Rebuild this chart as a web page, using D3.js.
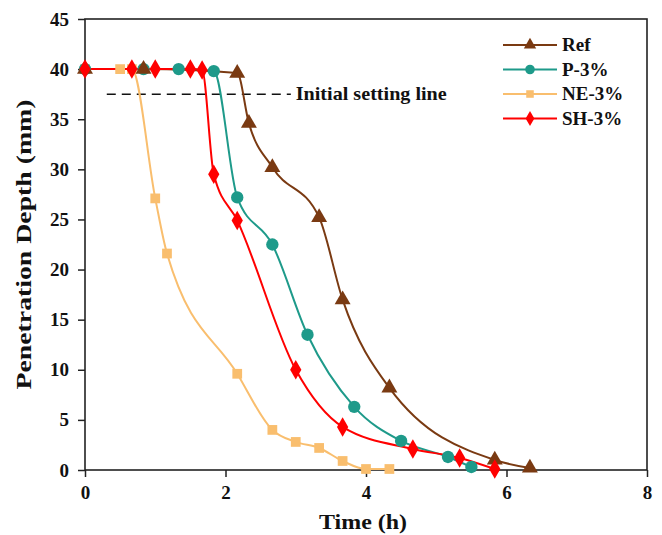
<!DOCTYPE html>
<html>
<head>
<meta charset="utf-8">
<script src="https://cdn.jsdelivr.net/npm/d3@7"></script>
<style>
  html, body { margin: 0; padding: 0; background: #fff; }
  text { font-family: "Liberation Serif", "Times New Roman", serif; font-weight: bold; fill: #111; }
</style>
</head>
<body>
<svg id="chart" width="662" height="535"></svg>
<script>
// time in hours, penetration depth in mm
const refT  = [0, 0.833, 2.167, 2.333, 2.667, 3.333, 3.667, 4.333, 5.833, 6.333];
const refY  = [40, 40, 39.6, 34.6, 30.2, 25.2, 17.0, 8.2, 1.0, 0.2];
const pT    = [0, 0.833, 1.333, 1.833, 2.167, 2.667, 3.167, 3.833, 4.5, 5.167, 5.5];
const pY    = [40, 40, 40, 39.8, 27.2, 22.5, 13.5, 6.3, 2.9, 1.3, 0.3];
const neT   = [0, 0.5, 0.667, 1.0, 1.167, 2.167, 2.667, 3.0, 3.333, 3.667, 4.0, 4.333];
const neY   = [40, 40, 40, 27.1, 21.6, 9.6, 4.0, 2.8, 2.2, 0.9, 0.1, 0.1];
const shT   = [0, 0.667, 1.0, 1.5, 1.667, 1.833, 2.167, 3.0, 3.667, 4.667, 5.333, 5.833];
const shY   = [40, 40, 40, 40, 39.9, 29.5, 24.9, 10.0, 4.3, 2.1, 1.2, 0.1];

const seriesNames = ['Ref', 'P-3%', 'NE-3%', 'SH-3%'];
const xTicks = [0, 2, 4, 6, 8];
const yTicks = [0, 5, 10, 15, 20, 25, 30, 35, 40, 45];
const settingLevel = 37.5;

const series = [
  { name: seriesNames[2], t: neT, y: neY, color: '#F9BE6E', symbol: d3.symbolSquare, size: 95 },
  { name: seriesNames[1], t: pT, y: pY, color: '#1E9A8A', symbol: d3.symbolCircle, size: 120 },
  { name: seriesNames[0], t: refT, y: refY, color: '#7A3A12', symbol: d3.symbolTriangle, size: 110 },
  { name: seriesNames[3], t: shT, y: shY, color: '#FF0000', symbol: d3.symbolDiamond, size: 110 }
];

const svg = d3.select('#chart');
const m = { left: 85, right: 15, top: 19, bottom: 65 };
const W = 662, H = 535;
const x = d3.scaleLinear().domain([0, 8]).range([m.left, W - m.right]);
const y = d3.scaleLinear().domain([0, 45]).range([H - m.bottom, m.top]);

// frame
svg.append('rect')
  .attr('x', x(0)).attr('y', y(45))
  .attr('width', x(8) - x(0)).attr('height', y(0) - y(45))
  .attr('fill', 'none').attr('stroke', '#222').attr('stroke-width', 1.6);

// minor ticks
const gx = svg.append('g').attr('transform', `translate(0,${y(0)})`);
gx.call(d3.axisBottom(x).tickValues(d3.range(1, 8, 2)).tickSize(4).tickFormat(''));
const gy = svg.append('g').attr('transform', `translate(${x(0)},0)`);
gy.call(d3.axisLeft(y).tickValues(d3.range(2.5, 45, 5)).tickSize(4).tickFormat(''));

// major ticks
gx.call(d3.axisBottom(x).tickValues(xTicks).tickSize(7).tickPadding(9).tickFormat(d3.format('d')));
gy.call(d3.axisLeft(y).tickValues(yTicks).tickSize(7).tickPadding(9).tickFormat(d3.format('d')));
svg.selectAll('.domain').remove();
svg.selectAll('.tick line').attr('stroke', '#222').attr('stroke-width', 1.5);
svg.selectAll('.tick text')
  .style('font-family', '"Liberation Serif", serif')
  .style('font-weight', 'bold')
  .style('font-size', '19px')
  .attr('fill', '#111');

// axis titles
svg.append('text')
  .attr('x', 363).attr('y', 529)
  .attr('text-anchor', 'middle').style('font-size', '22px')
  .attr('textLength', 88).attr('lengthAdjust', 'spacingAndGlyphs')
  .text('Time (h)');
svg.append('text')
  .attr('transform', `translate(31,${(y(0) + y(45)) / 2}) rotate(-90)`)
  .attr('text-anchor', 'middle').style('font-size', '22px')
  .attr('textLength', 290).attr('lengthAdjust', 'spacingAndGlyphs')
  .text('Penetration Depth (mm)');

// initial setting line
svg.append('line')
  .attr('x1', x(0.31)).attr('x2', x(2.93))
  .attr('y1', y(settingLevel)).attr('y2', y(settingLevel))
  .attr('stroke', '#111').attr('stroke-width', 1.5)
  .attr('stroke-dasharray', '9,6');
svg.append('text')
  .attr('x', x(3.0)).attr('y', y(settingLevel) + 6)
  .style('font-size', '19px')
  .attr('textLength', 151).attr('lengthAdjust', 'spacingAndGlyphs')
  .text('Initial setting line');

// curves + markers
const line = d3.line().curve(d3.curveMonotoneX);
series.forEach(s => {
  const pts = s.t.map((t, i) => [x(t), y(s.y[i])]);
  svg.append('path')
    .attr('d', line(pts))
    .attr('fill', 'none')
    .attr('stroke', s.color)
    .attr('stroke-width', 2);
});
series.forEach(s => {
  svg.append('g').selectAll('path')
    .data(s.t.map((t, i) => [t, s.y[i]]))
    .join('path')
    .attr('transform', d => `translate(${x(d[0])},${y(d[1])})`)
    .attr('d', d3.symbol().type(s.symbol).size(s.size))
    .attr('fill', s.color);
});

// legend
const legendOrder = [2, 1, 0, 3].map(i => series[i]);
const lg = svg.append('g');
legendOrder.forEach((s, i) => {
  const ly = 45 + i * 24.5;
  lg.append('line')
    .attr('x1', 503).attr('x2', 557)
    .attr('y1', ly).attr('y2', ly)
    .attr('stroke', s.color).attr('stroke-width', 2);
  lg.append('path')
    .attr('transform', `translate(530,${ly})`)
    .attr('d', d3.symbol().type(s.symbol).size(s.size * 0.6))
    .attr('fill', s.color);
  lg.append('text')
    .attr('x', 562).attr('y', ly + 6)
    .style('font-size', '19px')
    .text(s.name);
});
</script>
</body>
</html>
